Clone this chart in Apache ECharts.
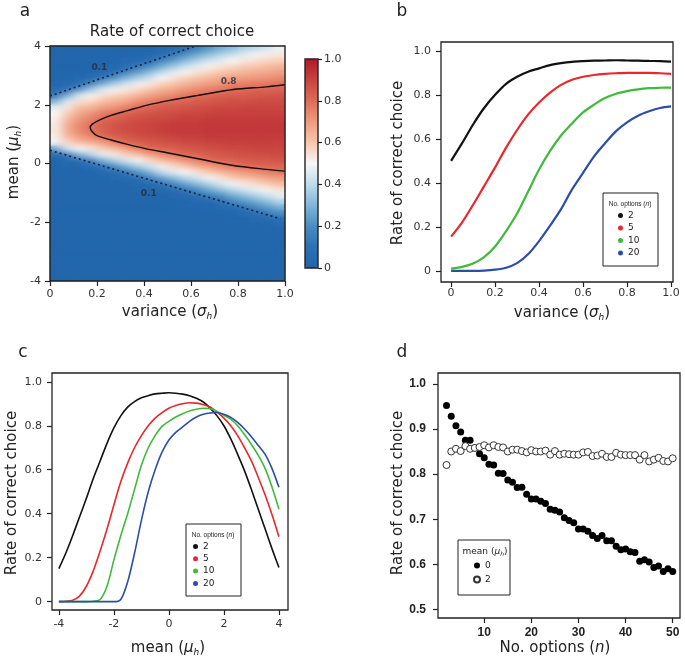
<!DOCTYPE html>
<html><head><meta charset="utf-8">
<script src="https://cdn.jsdelivr.net/npm/echarts@6/dist/echarts.min.js"></script>
<style>
html,body{margin:0;padding:0;background:#fff}
#wrap{position:relative;width:685px;height:660px}
#base,#main{position:absolute;left:0;top:0;width:685px;height:660px}
#blurwrap{position:absolute;left:50px;top:46px;width:235px;height:235px;overflow:hidden}
#blur{width:235px;height:235px;filter:url(#soft)}
</style>
</head><body>
<svg width="0" height="0" style="position:absolute"><defs>
<filter id="soft" x="-10%" y="-10%" width="120%" height="120%"><feGaussianBlur stdDeviation="5 2.6"/></filter>
</defs></svg>
<div id="wrap"><div id="base"></div><div id="blurwrap"><div id="blur"></div></div><div id="main"></div></div>
<script>
// ---------- Panel a: heatmap (rate of correct choice, n = 2) ----------
const sigmaCenters = [0.025,0.075,0.125,0.175,0.225,0.275,0.325,0.375,0.425,0.475,0.525,0.575,0.625,0.675,0.725,0.775,0.825,0.875,0.925,0.975];
const muCenters = [3.9,3.7,3.5,3.3,3.1,2.9,2.7,2.5,2.3,2.1,1.9,1.7,1.5,1.3,1.1,0.9,0.7,0.5,0.3,0.1,-0.1,-0.3,-0.5,-0.7,-0.9,-1.1,-1.3,-1.5,-1.7,-1.9,-2.1,-2.3,-2.5,-2.7,-2.9,-3.1,-3.3,-3.5,-3.7,-3.9];
// one column per sigma, values (percent) from mu = 3.9 (top) to mu = -3.9 (bottom)
const heatCols = [
 [0,0,0,0,0,0,2,6,13,30,46,50,52,53,53,52,48,25,6,2,0,0,0,0,0,0,0,0,0,0,0,0,0,0,0,0,0,0,0,0],
 [0,0,0,0,0,1,4,11,28,45,54,59,63,66,66,63,57,43,12,4,1,0,0,0,0,0,0,0,0,0,0,0,0,0,0,0,0,0,0,0],
 [0,0,0,0,0,3,8,22,44,55,62,67,71,74,74,70,62,50,29,8,3,0,0,0,0,0,0,0,0,0,0,0,0,0,0,0,0,0,0,0],
 [0,0,0,0,2,7,17,35,51,57,65,71,76,79,79,74,65,54,38,16,5,2,0,0,0,0,0,0,0,0,0,0,0,0,0,0,0,0,0,0],
 [0,0,0,1,5,12,28,45,55,62,69,77,81,83,83,80,70,59,47,28,11,4,1,0,0,0,0,0,0,0,0,0,0,0,0,0,0,0,0,0],
 [0,0,1,3,8,21,36,51,58,65,72,79,83,86,86,83,76,64,53,37,20,7,3,1,0,0,0,0,0,0,0,0,0,0,0,0,0,0,0,0],
 [0,1,3,7,16,29,43,53,61,68,76,82,86,88,88,85,81,70,58,44,28,12,5,2,0,0,0,0,0,0,0,0,0,0,0,0,0,0,0,0],
 [0,2,5,12,24,36,48,57,65,73,80,84,87,89,89,87,83,76,63,51,36,21,8,3,1,0,0,0,0,0,0,0,0,0,0,0,0,0,0,0],
 [1,3,8,19,31,42,53,61,69,76,82,86,89,90,90,88,85,81,70,57,43,29,15,6,2,1,0,0,0,0,0,0,0,0,0,0,0,0,0,0],
 [3,7,16,27,39,50,58,65,72,80,84,87,89,91,91,89,86,82,74,63,52,40,24,10,4,1,0,0,0,0,0,0,0,0,0,0,0,0,0,0],
 [5,12,23,34,46,54,61,68,75,81,85,88,90,92,92,90,87,83,78,67,56,45,31,17,7,3,1,0,0,0,0,0,0,0,0,0,0,0,0,0],
 [9,20,30,41,51,58,65,71,78,82,86,89,91,92,92,91,88,85,81,72,61,50,38,25,11,5,2,1,0,0,0,0,0,0,0,0,0,0,0,0],
 [16,26,36,46,54,61,67,74,80,84,87,89,91,92,92,91,89,86,82,76,66,55,43,31,19,8,3,1,0,0,0,0,0,0,0,0,0,0,0,0],
 [22,32,42,51,57,64,70,76,81,85,88,90,92,93,93,92,90,87,84,80,70,60,49,37,26,14,5,2,1,0,0,0,0,0,0,0,0,0,0,0],
 [28,37,46,54,60,66,72,78,83,86,89,91,92,93,93,92,90,88,85,82,74,64,54,44,32,20,9,3,1,0,0,0,0,0,0,0,0,0,0,0],
 [32,41,50,56,62,69,75,80,84,87,89,91,92,93,93,92,91,89,86,83,78,68,59,49,38,27,16,6,2,1,0,0,0,0,0,0,0,0,0,0],
 [37,46,53,59,64,70,76,81,84,87,90,91,92,93,93,92,91,89,87,84,80,71,62,53,43,32,22,11,4,1,0,0,0,0,0,0,0,0,0,0],
 [40,49,55,60,66,71,77,82,85,88,90,91,92,93,93,92,91,90,87,85,81,73,65,56,47,37,27,17,8,3,1,0,0,0,0,0,0,0,0,0],
 [44,52,57,62,67,72,78,82,86,88,90,91,92,93,93,92,91,90,88,85,82,76,68,59,51,42,32,23,13,5,2,0,0,0,0,0,0,0,0,0],
 [48,53,58,64,69,74,79,83,86,88,90,91,92,93,93,92,91,90,88,86,82,78,70,63,55,47,38,28,19,9,3,1,0,0,0,0,0,0,0,0]
];
const contour08 = [[1.0,2.68],[0.92,2.61],[0.78,2.52],[0.63,2.32],[0.51,2.15],[0.41,1.98],[0.33,1.80],[0.26,1.64],[0.21,1.48],[0.18,1.34],[0.171,1.22],[0.18,1.08],[0.2,0.95],[0.26,0.80],[0.33,0.65],[0.41,0.50],[0.51,0.35],[0.63,0.16],[0.78,-0.07],[0.92,-0.20],[1.0,-0.26]];
const contour01Upper = [[0,2.3],[0.62,4.0]];
const contour01Lower = [[0,0.45],[0.98,-1.88]];
const contourLabels = [[0.21,3.27,'0.1'],[0.76,2.79,'0.8'],[0.42,-1.03,'0.1']];
const colorbarTicks = [0,0.2,0.4,0.6,0.8,1.0];
const heatColors = ['#2166ac','#2d70b3','#4a8dc2','#80b6d8','#bedbeb','#f7f7f7','#f8c6ab','#f09b7e','#de6c57','#c9443f','#b2182b'];

// ---------- Panel b ----------
const sigmaB = [0,0.05,0.1,0.15,0.2,0.25,0.3,0.35,0.4,0.45,0.5,0.55,0.6,0.65,0.7,0.75,0.8,0.85,0.9,0.95,1.0];
const rateB_n2  = [0.50,0.58,0.665,0.74,0.80,0.85,0.882,0.905,0.92,0.935,0.944,0.95,0.953,0.955,0.956,0.957,0.956,0.955,0.954,0.953,0.951];
const rateB_n5  = [0.155,0.22,0.30,0.385,0.47,0.56,0.64,0.71,0.765,0.81,0.845,0.868,0.882,0.89,0.895,0.898,0.90,0.90,0.90,0.898,0.895];
const rateB_n10 = [0.01,0.018,0.033,0.062,0.11,0.18,0.26,0.36,0.46,0.545,0.615,0.67,0.72,0.755,0.785,0.805,0.817,0.825,0.83,0.832,0.833];
const rateB_n20 = [0,0,0,0.001,0.005,0.014,0.035,0.075,0.135,0.205,0.28,0.37,0.445,0.52,0.58,0.635,0.675,0.705,0.725,0.74,0.747];
const unitTicks = [0,0.2,0.4,0.6,0.8,1.0];

// ---------- Panel c ----------
const meanC = [-4,-3.75,-3.5,-3.25,-3,-2.75,-2.5,-2.25,-2,-1.75,-1.5,-1.25,-1,-0.75,-0.5,-0.25,0,0.25,0.5,0.75,1,1.25,1.5,1.75,2,2.25,2.5,2.75,3,3.25,3.5,3.75,4];
const rateC_n2  = [0.15,0.22,0.30,0.385,0.47,0.56,0.64,0.72,0.79,0.845,0.885,0.91,0.927,0.937,0.945,0.948,0.95,0.948,0.944,0.937,0.925,0.908,0.88,0.845,0.80,0.74,0.67,0.595,0.51,0.42,0.33,0.24,0.155];
const rateC_n5  = [0,0.002,0.006,0.025,0.07,0.14,0.23,0.33,0.44,0.545,0.63,0.70,0.755,0.80,0.835,0.86,0.88,0.892,0.90,0.905,0.903,0.896,0.885,0.862,0.835,0.80,0.755,0.70,0.64,0.565,0.485,0.395,0.295];
const rateC_n10 = [0,0,0,0,0,0.002,0.01,0.07,0.19,0.30,0.40,0.51,0.62,0.70,0.755,0.797,0.82,0.84,0.855,0.867,0.875,0.88,0.878,0.865,0.848,0.83,0.80,0.76,0.715,0.665,0.605,0.52,0.42];
const rateC_n20 = [0,0,0,0,0,0,0,0,0,0.01,0.09,0.22,0.37,0.50,0.60,0.68,0.735,0.77,0.795,0.82,0.84,0.852,0.858,0.86,0.852,0.838,0.815,0.785,0.75,0.71,0.67,0.605,0.52];
const meanTicks = [-4,-2,0,2,4];

// ---------- Panel d ----------
const nOptions = [2,3,4,5,6,7,8,9,10,11,12,13,14,15,16,17,18,19,20,21,22,23,24,25,26,27,28,29,30,31,32,33,34,35,36,37,38,39,40,41,42,43,44,45,46,47,48,49,50];
const rateD_mean0 = [0.952,0.928,0.907,0.893,0.875,0.875,0.858,0.845,0.836,0.822,0.820,0.802,0.801,0.787,0.782,0.770,0.771,0.755,0.745,0.745,0.740,0.735,0.722,0.720,0.716,0.703,0.697,0.692,0.678,0.678,0.673,0.664,0.657,0.664,0.652,0.652,0.640,0.632,0.634,0.628,0.626,0.607,0.610,0.605,0.593,0.596,0.584,0.590,0.584];
const rateD_mean2 = [0.820,0.850,0.856,0.851,0.862,0.856,0.858,0.860,0.864,0.859,0.864,0.860,0.859,0.850,0.854,0.854,0.851,0.848,0.853,0.850,0.850,0.852,0.843,0.851,0.843,0.845,0.844,0.843,0.843,0.848,0.849,0.840,0.841,0.845,0.838,0.838,0.847,0.843,0.842,0.842,0.842,0.832,0.842,0.828,0.832,0.836,0.829,0.828,0.835];
const nTicks = [10,20,30,40,50];
const rateDTicks = [0.5,0.6,0.7,0.8,0.9,1.0];

// ---------- build ----------
const FONT = 'DejaVu Sans';
const zip = (xs, ys) => xs.map((x, i) => [x, ys[i]]);
const fmt1 = v => (Math.abs(v) < 1e-9 ? '0' : v.toFixed(1));

const heatData = [];
heatCols.forEach((col, c) => col.forEach((v, r) => heatData.push([c, r, v / 100])));

// heatmap layers: a sharp base (with the colour bar) and a softened copy on top of it
function heatOption(gridRect, showBar) {
  return {
    animation: false,
    backgroundColor: showBar ? '#fff' : 'transparent',
    grid: [gridRect],
    xAxis: [{ type: 'category', data: sigmaCenters.map(String), show: false }],
    yAxis: [{ type: 'category', data: muCenters.map(String), inverse: true, show: false }],
    visualMap: {
      show: showBar, type: 'continuous', min: 0, max: 1, seriesIndex: 0, orient: 'vertical',
      left: 305, top: 59, itemWidth: 13, itemHeight: 209, padding: 0,
      calculable: false, hoverLink: false, inRange: { color: heatColors }
    },
    series: [{ type: 'heatmap', data: heatData, progressive: 0, silent: true, itemStyle: { borderWidth: 0 } }]
  };
}
echarts.init(document.getElementById('base')).setOption(heatOption({ left: 50, top: 46, width: 235, height: 235 }, true));
echarts.init(document.getElementById('blur')).setOption(heatOption({ left: 0, top: 0, width: 235, height: 235 }, false));

function valAxis(grid, min, max, ticks, fmt, margin, extra) {
  return Object.assign({
    type: 'value', gridIndex: grid, min: min, max: max,
    axisLine: { show: false, onZero: false },
    axisTick: { show: true, inside: false, length: 5, customValues: ticks, lineStyle: { color: '#222', width: 1.2 } },
    axisLabel: { show: true, customValues: ticks, formatter: fmt, margin: margin, color: '#333', fontSize: 11, fontFamily: FONT },
    splitLine: { show: false }
  }, extra || {});
}

const SUB = { n: { fontSize: 15, fontFamily: FONT, fill: '#222' },
              i: { fontSize: 15, fontFamily: FONT, fontStyle: 'italic', fill: '#222' },
              s: { fontSize: 9, fontFamily: FONT, fontStyle: 'italic', fill: '#222', padding: [9, 0, 0, 0] } };
function txt(x, y, text, opt) {
  opt = opt || {};
  return { type: 'text', x: x, y: y, rotation: opt.rot || 0, z: 50,
    style: { text: text, rich: opt.rich || SUB, fill: opt.fill || '#222', font: opt.font || ('15px ' + FONT),
      align: 'center', verticalAlign: 'middle', textAlign: 'center', textVerticalAlign: 'middle' } };
}
function box(x, y, w, h, fill, lw, z) {
  return { type: 'rect', z: z, shape: { x: x, y: y, width: w, height: h },
    style: { fill: fill, stroke: '#222', lineWidth: lw } };
}
const tinyRich = { t: { fontSize: 6.5, fontFamily: 'Liberation Sans', fill: '#222' },
                   ti: { fontSize: 6.5, fontFamily: 'Liberation Sans', fontStyle: 'italic', fill: '#222' } };
const legRich = { t: { fontSize: 9, fontFamily: FONT, fill: '#222' },
                  ti: { fontSize: 9, fontFamily: FONT, fontStyle: 'italic', fill: '#222' },
                  ts: { fontSize: 6, fontFamily: FONT, fontStyle: 'italic', fill: '#222', padding: [5, 0, 0, 0] } };

const colB = { '2': '#111111', '5': '#e8282c', '10': '#3fba3a', '20': '#2b4ea6' };

const option = {
  animation: false,
  backgroundColor: 'transparent',
  grid: [
    { left: 50, top: 46, width: 235, height: 235 },                  // 0 panel a axes
    { left: 441, top: 42, width: 232, height: 240, show: true, borderColor: '#222', borderWidth: 1.3 }, // 1 b
    { left: 52, top: 373, width: 236, height: 237, show: true, borderColor: '#222', borderWidth: 1.3 },  // 2 c
    { left: 438, top: 373, width: 242, height: 245, show: true, borderColor: '#222', borderWidth: 1.3 }, // 3 d
    { left: 305, top: 59, width: 13, height: 209 }                   // 4 colorbar axis
  ],
  xAxis: [
    valAxis(0, 0, 1, unitTicks, fmt1, 8),
    valAxis(1, -0.046, 1.009, unitTicks, fmt1, 6),
    valAxis(2, -4.25, 4.33, meanTicks, v => String(v), 9),
    valAxis(3, 0.19, 51.55, nTicks, v => String(v), 9,
      { axisLabel: { customValues: nTicks, margin: 9, color: '#222', fontSize: 12, fontWeight: 'bold', fontFamily: 'Liberation Sans' } }),
    { type: 'value', gridIndex: 4, min: 0, max: 1, show: false }
  ],
  yAxis: [
    valAxis(0, -4, 4, [-4,-2,0,2,4], v => String(v), 9),
    valAxis(1, -0.051, 1.04, unitTicks, fmt1, 10),
    valAxis(2, -0.038, 1.04, unitTicks, fmt1, 10),
    valAxis(3, 0.481, 1.024, rateDTicks, fmt1, 12,
      { axisLabel: { customValues: rateDTicks, formatter: fmt1, margin: 12, color: '#222', fontSize: 12, fontWeight: 'bold', fontFamily: 'Liberation Sans' } }),
    valAxis(4, 0, 1, colorbarTicks, fmt1, 6, { position: 'right', axisTick: { show: true, length: 4, customValues: colorbarTicks, lineStyle: { color: '#222', width: 1.2 } } })
  ],
  legend: [
    { data: ['2','5','10','20'], orient: 'vertical', left: 618, top: 211, padding: 0, itemWidth: 5, itemHeight: 5, itemGap: 3.5,
      icon: 'circle', selectedMode: false, z: 20, textStyle: { fontSize: 9, fontFamily: FONT, color: '#222' } },
    { data: ['2','5','10','20'], orient: 'vertical', left: 193, top: 542, padding: 0, itemWidth: 5, itemHeight: 5, itemGap: 3.3,
      icon: 'circle', selectedMode: false, z: 20, textStyle: { fontSize: 9, fontFamily: FONT, color: '#222' } },
    { data: ['0 ','2 '], orient: 'vertical', left: 473, top: 561, padding: 0, itemWidth: 6, itemHeight: 6, itemGap: 5,
      icon: 'circle', selectedMode: false, z: 20, formatter: n => n.trim(), textStyle: { fontSize: 9, fontFamily: FONT, color: '#222' } }
  ],
  series: [
    { type: 'line', xAxisIndex: 0, yAxisIndex: 0, data: contour08, symbol: 'none', smooth: 0.3, silent: true,
      lineStyle: { color: '#160a08', width: 1.4 }, z: 5 },
    { type: 'line', xAxisIndex: 0, yAxisIndex: 0, data: contour01Upper, symbol: 'none', silent: true,
      lineStyle: { color: '#14213d', width: 1.6, type: [2, 3] }, z: 5 },
    { type: 'line', xAxisIndex: 0, yAxisIndex: 0, data: contour01Lower, symbol: 'none', silent: true,
      lineStyle: { color: '#14213d', width: 1.6, type: [2, 3] }, z: 5 },
    { type: 'scatter', xAxisIndex: 0, yAxisIndex: 0, data: contourLabels, symbolSize: 2, silent: true, z: 6,
      itemStyle: { color: 'rgba(255,255,255,0)' },
      label: { show: true, position: 'inside', formatter: p => p.data[2], fontSize: 9, fontWeight: 'bold', fontFamily: FONT,
        color: '#2a2a3a' } },
    ...[['2', rateB_n2], ['5', rateB_n5], ['10', rateB_n10], ['20', rateB_n20]].map(([nm, ys]) => ({
      name: nm, type: 'line', xAxisIndex: 1, yAxisIndex: 1, data: zip(sigmaB, ys), symbol: 'none', smooth: 0.3,
      itemStyle: { color: colB[nm] }, lineStyle: { color: colB[nm], width: 2.2 } })),
    ...[['2', rateC_n2], ['5', rateC_n5], ['10', rateC_n10], ['20', rateC_n20]].map(([nm, ys]) => ({
      name: nm, type: 'line', xAxisIndex: 2, yAxisIndex: 2, data: zip(meanC, ys), symbol: 'none', smooth: 0.3,
      itemStyle: { color: colB[nm] }, lineStyle: { color: colB[nm], width: 1.6 } })),
    { name: '0 ', type: 'scatter', xAxisIndex: 3, yAxisIndex: 3, data: zip(nOptions, rateD_mean0), symbolSize: 7,
      itemStyle: { color: '#000', opacity: 1 } },
    { name: '2 ', type: 'scatter', xAxisIndex: 3, yAxisIndex: 3, data: zip(nOptions, rateD_mean2), symbolSize: 7,
      itemStyle: { color: '#fff', borderColor: '#333', borderWidth: 1, opacity: 1 } }
  ],
  graphic: { elements: [
    box(50, 46, 235, 235, 'none', 1.4, 40),
    box(305, 59, 13, 209, 'none', 1.4, 40),
    box(603, 193, 55, 73, '#fff', 1, 15),
    box(186, 524, 55, 72, '#fff', 1, 15),
    box(458, 540, 52, 55, '#fff', 1, 15),
    txt(25, 12, 'a', { font: '17px ' + FONT, rich: {} }),
    txt(402, 12, 'b', { font: '17px ' + FONT, rich: {} }),
    txt(23, 353, 'c', { font: '17px ' + FONT, rich: {} }),
    txt(402, 353, 'd', { font: '17px ' + FONT, rich: {} }),
    txt(172, 32, 'Rate of correct choice', { rich: {} }),
    txt(170, 312, '{n|variance (}{i|σ}{s|h}{n|)}'),
    txt(14, 162, '{n|mean (}{i|μ}{s|h}{n|)}', { rot: Math.PI / 2 }),
    txt(562, 313, '{n|variance (}{i|σ}{s|h}{n|)}'),
    txt(398, 163, 'Rate of correct choice', { rot: Math.PI / 2, rich: {} }),
    txt(168, 648, '{n|mean (}{i|μ}{s|h}{n|)}'),
    txt(12, 493, 'Rate of correct choice', { rot: Math.PI / 2, rich: {} }),
    txt(555, 648, '{n|No. options (}{i|n}{n|)}'),
    txt(398, 493, 'Rate of correct choice', { rot: Math.PI / 2, rich: {} }),
    txt(630, 204, '{t|No. options (}{ti|n}{t|)}', { rich: tinyRich }),
    txt(213, 535, '{t|No. options (}{ti|n}{t|)}', { rich: tinyRich }),
    txt(485, 552, '{t|mean (}{ti|μ}{ts|h}{t|)}', { rich: legRich })
  ] }
};
echarts.init(document.getElementById('main')).setOption(option);
</script></body></html>
